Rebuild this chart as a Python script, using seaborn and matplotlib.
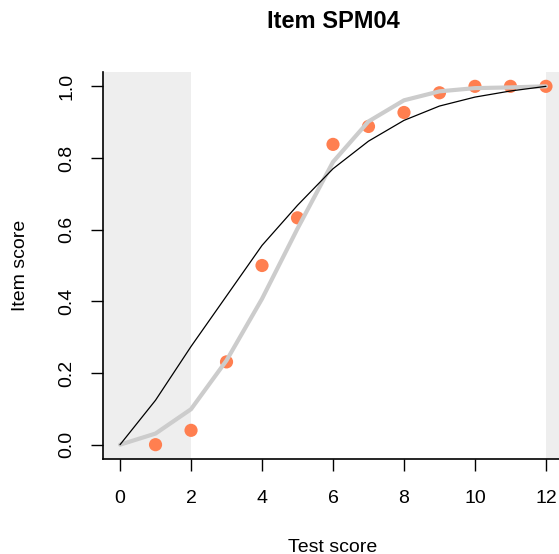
import matplotlib
matplotlib.use("Agg")
import matplotlib.pyplot as plt
import seaborn as sns
import pandas as pd

sns.set_style("white")
plt.rcParams["font.family"] = ["Liberation Sans", "DejaVu Sans"]
plt.rcParams["text.color"] = "black"
plt.rcParams["axes.labelcolor"] = "black"
plt.rcParams["xtick.color"] = "black"
plt.rcParams["ytick.color"] = "black"

# Observed item scores by test score
obs_x = [1, 2, 3, 4, 5, 6, 7, 8, 9, 10, 11, 12]
obs_y = [0.0, 0.04, 0.231, 0.5, 0.633, 0.838, 0.888, 0.927, 0.982, 1.0, 1.0, 1.0]

# Smoothed (grey) and model (black) curves
curve_x = [0, 1, 2, 3, 4, 5, 6, 7, 8, 9, 10, 11, 12]
smooth_y = [0.0, 0.031, 0.099, 0.235, 0.407, 0.603, 0.789, 0.902, 0.961, 0.986, 0.995, 0.997, 1.0]
model_y = [0.0, 0.124, 0.274, 0.415, 0.556, 0.668, 0.770, 0.847, 0.905, 0.945, 0.970, 0.987, 1.0]

# Shaded score ranges
shade_ranges = [(-1.0, 2.0), (12.0, 14.0)]

x_ticks = [0, 2, 4, 6, 8, 10, 12]
y_ticks = [0.0, 0.2, 0.4, 0.6, 0.8, 1.0]
y_tick_labels = ["0.0", "0.2", "0.4", "0.6", "0.8", "1.0"]

obs = pd.DataFrame({"score": obs_x, "item": obs_y})
curves = pd.DataFrame({"score": curve_x, "smooth": smooth_y, "model": model_y})

W, H = 559, 554
fig = plt.figure(figsize=(W / 100, H / 100), dpi=100)
ax = fig.add_axes([103 / W, (H - 459) / H, 460 / W, 387 / H])

for lo, hi in shade_ranges:
    ax.axvspan(lo, hi, color="#EEEEEE", lw=0, zorder=0)

sns.scatterplot(data=obs, x="score", y="item", ax=ax, color="#FF7F50",
                s=90, edgecolor="none", zorder=2)
sns.lineplot(data=curves, x="score", y="smooth", ax=ax, color="#CCCCCC",
             lw=3.0, zorder=3)
sns.lineplot(data=curves, x="score", y="model", ax=ax, color="black",
             lw=0.9, zorder=4)

ax.set_xlim(-0.48, 12.48)
ax.set_ylim(-0.04, 1.04)
ax.set_xticks(x_ticks)
ax.set_yticks(y_ticks)
ax.set_yticklabels(y_tick_labels, rotation=90, va="center")

for s in ["top", "right"]:
    ax.spines[s].set_visible(False)
for s in ["left", "bottom"]:
    ax.spines[s].set_linewidth(1.2)
    ax.spines[s].set_color("black")

ax.tick_params(axis="both", which="both", direction="out", length=8.5,
               width=1.0, color="black", labelsize=14,
               bottom=True, left=True)
ax.tick_params(axis="x", pad=13.5)
ax.tick_params(axis="y", pad=11.5)

ax.set_xlabel("Test score", fontsize=14, labelpad=23)
ax.set_ylabel("Item score", fontsize=14, labelpad=21)
fig.text(333 / W, 1 - 22 / H, "Item SPM04", ha="center", va="center",
         fontsize=17, fontweight="bold")

fig.savefig("out.png", dpi=100)
